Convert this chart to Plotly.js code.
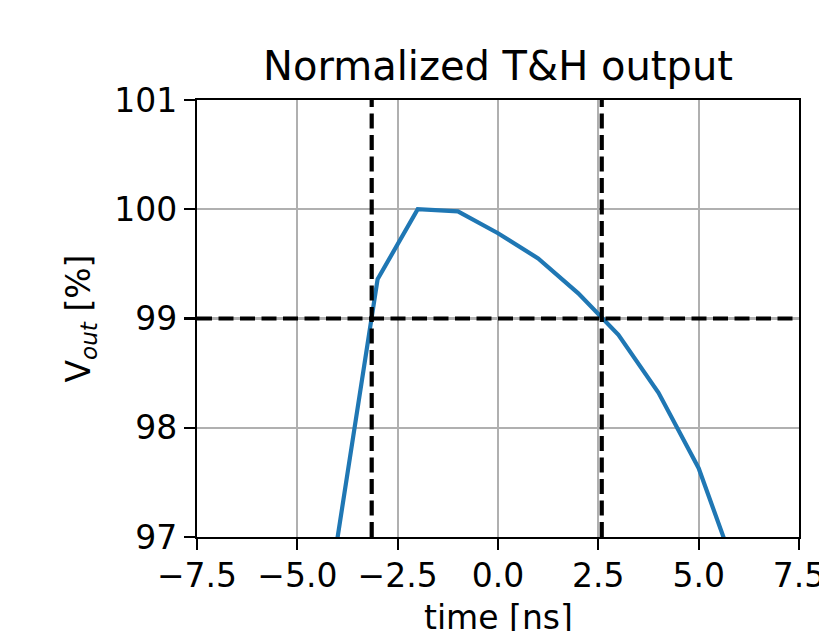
<!DOCTYPE html>
<html>
<head>
<meta charset="utf-8">
<script src="https://cdn.plot.ly/plotly-3.0.1.min.js"></script>
<style>html,body{margin:0;padding:0;background:#fff;}#chart{width:819px;height:631px;}</style>
</head>
<body>
<div id="chart"></div>
<script>
// data
var timeNs = [-4, -3, -2, -1, 0, 1, 2, 3, 4, 5, 6];
var voutPct = [96.99, 99.36, 100.0, 99.98, 99.78, 99.55, 99.23, 98.85, 98.32, 97.63, 96.61];
var crossTimes = [-3.147, 2.585];
var levelPct = [99];
var xRange = [-7.5, 7.5];
var yRange = [97, 101];
var xTickVals = [-7.5, -5, -2.5, 0, 2.5, 5, 7.5];
var xTickText = ['\u22127.5', '\u22125.0', '\u22122.5', '0.0', '2.5', '5.0', '7.5'];
var yTickVals = [97, 98, 99, 100, 101];
var yTickText = ['97', '98', '99', '100', '101'];

var dashStyle = {color: 'black', width: 4.2, dash: '15px,6.5px'};
var traces = [{
  x: timeNs, y: voutPct, type: 'scatter', mode: 'lines',
  line: {color: '#1f77b4', width: 4.2}, hoverinfo: 'skip', cliponaxis: true
}];
crossTimes.forEach(function (t) {
  traces.push({x: [t, t], y: yRange, type: 'scatter', mode: 'lines', line: dashStyle, hoverinfo: 'skip'});
});
levelPct.forEach(function (v) {
  traces.push({x: xRange, y: [v, v], type: 'scatter', mode: 'lines', line: dashStyle, hoverinfo: 'skip'});
});

var font = {family: 'DejaVu Sans, sans-serif', color: 'black'};
var layout = {
  width: 819, height: 631,
  margin: {l: 197, r: 20, t: 100, b: 94},
  paper_bgcolor: 'white', plot_bgcolor: 'white',
  showlegend: false,
  font: {family: font.family, color: 'black', size: 33},
  title: {text: 'Normalized T&H output', font: {family: font.family, size: 40, color: 'black'},
          xref: 'paper', x: 0.5, xanchor: 'center', yref: 'container', y: 1 - 66 / 631, yanchor: 'middle'},
  annotations: [{
    text: 'time [ns]', xref: 'paper', yref: 'paper', x: 0.5, y: -(617 - 537) / 437,
    xanchor: 'center', yanchor: 'middle', showarrow: false,
    font: {family: font.family, size: 33, color: 'black'}
  }],
  xaxis: {
    range: xRange, tickmode: 'array', tickvals: xTickVals, ticktext: xTickText,
    ticklabeloverflow: 'allow', ticklabelstandoff: -3,
    showgrid: true, gridcolor: '#b0b0b0', gridwidth: 2.2,
    zeroline: false, showline: true, linecolor: 'black', linewidth: 2.2, mirror: true,
    ticks: 'outside', ticklen: 11, tickwidth: 2.2, tickcolor: 'black',
    tickfont: {family: font.family, size: 33, color: 'black'}
  },
  yaxis: {
    range: yRange, tickmode: 'array', tickvals: yTickVals, ticktext: yTickText,
    showgrid: true, gridcolor: '#b0b0b0', gridwidth: 2.2,
    zeroline: false, showline: true, linecolor: 'black', linewidth: 2.2, mirror: true,
    ticks: 'outside', ticklen: 11, tickwidth: 2.2, tickcolor: 'black',
    tickfont: {family: font.family, size: 33, color: 'black'},
    title: {text: 'V<sub><i>out</i></sub> [%]', font: {family: font.family, size: 33, color: 'black'}, standoff: 14}
  }
};
Plotly.newPlot('chart', traces, layout, {displayModeBar: false, staticPlot: true});
</script>
</body>
</html>
